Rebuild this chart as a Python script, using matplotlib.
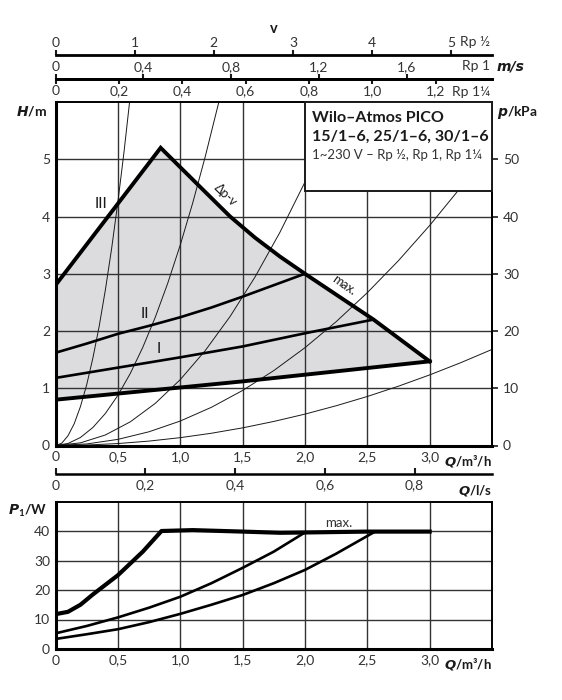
import matplotlib.pyplot as plt
from matplotlib.patches import Rectangle
from matplotlib.ticker import FuncFormatter

FONT = 'Lato'
plt.rcParams['font.family'] = [FONT, 'DejaVu Sans']
plt.rcParams['mathtext.fontset'] = 'custom'
plt.rcParams['mathtext.rm'] = FONT + ':bold'
plt.rcParams['mathtext.it'] = 'DejaVu Sans:italic:bold'
plt.rcParams['mathtext.bf'] = FONT + ':bold'

INK = '#1a1a1a'
TXT = '#333333'
GRID = '#333333'
FILL = '#dcdcdf'

# --- pump curve (H over Q) ---
Q_MAX = [0, 0.843, 1.2, 1.4, 1.6, 1.8, 2.0, 2.55, 3.0]
H_MAX = [2.8, 5.2, 4.43, 4.0, 3.63, 3.3, 3.0, 2.2, 1.47]
Q_MIN = [0, 1.5, 3.0]
H_MIN = [0.8, 1.12, 1.47]
Q_II = [0, 0.25, 0.5, 0.75, 1.0, 1.25, 1.5, 1.75, 2.0]
H_II = [1.62, 1.78, 1.95, 2.09, 2.24, 2.41, 2.6, 2.8, 3.0]
Q_I = [0, 0.5, 1.0, 1.5, 2.0, 2.55]
H_I = [1.18, 1.36, 1.54, 1.73, 1.96, 2.2]

# system curves (thin)
SYS_Q = [
    [0, 0.05, 0.1, 0.15, 0.2, 0.25, 0.3, 0.35, 0.4, 0.45, 0.5, 0.55, 0.594],
    [0, 0.1, 0.2, 0.3, 0.4, 0.5, 0.6, 0.7, 0.8, 0.9, 1.0, 1.1, 1.2, 1.3, 1.31],
    [0, 0.2, 0.4, 0.6, 0.8, 1.0, 1.2, 1.4, 1.6, 1.8, 2.0, 2.2, 2.28],
    [0, 0.25, 0.5, 0.75, 1.0, 1.25, 1.5, 1.75, 2.0, 2.25, 2.5, 2.75, 3.0, 3.25],
    [0, 0.25, 0.5, 0.75, 1.0, 1.25, 1.5, 1.75, 2.0, 2.25, 2.5, 2.75, 3.0, 3.25, 3.5],
]
SYS_H = [
    [0, 0.04, 0.17, 0.38, 0.68, 1.06, 1.53, 2.08, 2.72, 3.44, 4.25, 5.14, 6.0],
    [0, 0.035, 0.14, 0.315, 0.56, 0.875, 1.26, 1.715, 2.24, 2.835, 3.5, 4.235, 5.04, 5.915, 6.0],
    [0, 0.046, 0.184, 0.414, 0.736, 1.15, 1.656, 2.254, 2.944, 3.726, 4.6, 5.566, 5.98],
    [0, 0.027, 0.107, 0.24, 0.427, 0.667, 0.961, 1.308, 1.708, 2.162, 2.669, 3.229, 3.843, 4.51],
    [0, 0.0086, 0.034, 0.077, 0.137, 0.214, 0.308, 0.42, 0.548, 0.694, 0.856, 1.036, 1.233,
     1.447, 1.678],
]

# --- power curve (P1 over Q) ---
PQ_MAX = [0, 0.1, 0.2, 0.3, 0.5, 0.7, 0.85, 1.1, 1.5, 1.8, 2.0, 2.5, 3.0]
P_MAX = [11.8, 12.6, 15, 18.5, 25, 33, 40, 40.3, 39.8, 39.4, 39.5, 39.8, 39.8]
PQ_II = [0, 0.25, 0.5, 0.75, 1.0, 1.25, 1.5, 1.75, 2.0]
P_II = [5.3, 7.8, 10.7, 14.0, 17.7, 22.3, 27.5, 33.0, 39.5]
PQ_I = [0, 0.25, 0.5, 0.75, 1.0, 1.25, 1.5, 1.75, 2.0, 2.25, 2.55]
P_I = [3.4, 5.0, 6.7, 9.1, 11.9, 15.0, 18.3, 22.3, 26.8, 32.3, 39.5]

Q_TICKS = [0, 0.5, 1.0, 1.5, 2.0, 2.5, 3.0]
H_TICKS = [0, 1, 2, 3, 4, 5]
P_KPA_TICKS = [0, 10, 20, 30, 40, 50]
P1_TICKS = [0, 10, 20, 30, 40]

# velocity scales (m/s per m3/h) and ticks
V_RP12 = 1.576
V_RP1 = 0.568
V_RP114 = 0.3935
RP12_TICKS = [0, 1, 2, 3, 4, 5]
RP1_TICKS = [0, 0.4, 0.8, 1.2, 1.6]
RP114_TICKS = [0, 0.2, 0.4, 0.6, 0.8, 1.0, 1.2]
LS_TICKS = [0, 0.2, 0.4, 0.6, 0.8]


def comma(v, pos=None):
    if v == 0:
        return '0'
    return ('%.1f' % v).replace('.', ',')


def plain(v, pos=None):
    return '%g' % v


W, H = 562, 700
fig = plt.figure(figsize=(5.62, 7.0), dpi=100)

# main chart
ax = fig.add_axes([55.5 / W, (H - 445.5) / H, 436.5 / W, 343.5 / H])
ax.set_xlim(0, 3.5)
ax.set_ylim(0, 6)
ax.set_xticks(Q_TICKS)
ax.set_yticks(H_TICKS)
ax.xaxis.set_major_formatter(FuncFormatter(comma))
ax.grid(True, color=GRID, lw=1.0)
ax.tick_params(length=0, labelsize=10, colors=TXT, pad=4)
for s in ['left', 'bottom']:
    ax.spines[s].set_linewidth(2.2)
for s in ['top', 'right']:
    ax.spines[s].set_linewidth(1.4)

ax.fill(Q_MAX + Q_MIN[::-1], H_MAX + H_MIN[::-1], color=FILL, lw=0, zorder=1)
for qs, hs in zip(SYS_Q, SYS_H):
    ax.plot(qs, hs, color=INK, lw=0.7, zorder=2)
ax.plot(Q_MAX, H_MAX, color='black', lw=2.8, zorder=2.5, solid_joinstyle='miter')
ax.plot(Q_MIN, H_MIN, color='black', lw=2.8, zorder=2.5)
ax.plot(Q_II, H_II, color='black', lw=1.9, zorder=2.5)
ax.plot(Q_I, H_I, color='black', lw=1.9, zorder=2.5)

ax.text(0.365, 4.21, 'III', fontsize=11, color=INK, ha='center', va='center')
ax.text(0.718, 2.30, 'II', fontsize=11, color=INK, ha='center', va='center')
ax.text(0.83, 1.69, 'I', fontsize=11, color=INK, ha='center', va='center')
ax.text(1.36, 4.38, 'Δp-v', fontsize=9, color=INK, ha='center', va='center', rotation=-44)
ax.text(2.31, 2.80, 'max.', fontsize=9, color=INK, ha='center', va='center', rotation=-35)

ax.add_patch(Rectangle((2.0, 4.45), 1.5, 1.55, facecolor='white', edgecolor=INK,
                       lw=1.4, zorder=3, clip_on=False))
ax.text(2.057, 5.72, 'Wilo–Atmos PICO', fontsize=11.5, fontweight='bold', color=INK,
        va='center', zorder=4)
ax.text(2.057, 5.39, '15/1–6, 25/1–6, 30/1–6', fontsize=11.5, fontweight='bold', color=INK,
        va='center', zorder=4)
ax.text(2.057, 5.07, '1~230 V – Rp ½, Rp 1, Rp 1¼', fontsize=9.5, color=TXT,
        va='center', zorder=4)

ax.text(-0.02, 0.995, '$H$/m', transform=ax.transAxes, ha='right', va='top',
        fontsize=10, fontweight='bold', color=INK)
ax.text(1.012, 0.995, '$p$/kPa', transform=ax.transAxes, ha='left', va='top',
        fontsize=10, fontweight='bold', color=INK)
ax.text(1.0, -0.022, '$Q$/m³/h', transform=ax.transAxes, ha='right', va='top',
        fontsize=9.5, fontweight='bold', color=INK)

# right pressure axis
sec_p = ax.secondary_yaxis('right', functions=(lambda h: h * 10, lambda p: p / 10))
sec_p.set_yticks(P_KPA_TICKS)
sec_p.tick_params(length=4, width=1.2, labelsize=10, labelcolor=TXT, color=INK, pad=4)
sec_p.spines['right'].set_linewidth(1.4)

# velocity axes on top
loc_rp12 = (445.5 - 55) / 343.5
loc_rp1 = (445.5 - 79) / 343.5
sec_a = ax.secondary_xaxis(loc_rp12, functions=(lambda q: q * V_RP12, lambda v: v / V_RP12))
sec_a.set_xticks(RP12_TICKS)
sec_a.xaxis.set_major_formatter(FuncFormatter(plain))
sec_b = ax.secondary_xaxis(loc_rp1, functions=(lambda q: q * V_RP1, lambda v: v / V_RP1))
sec_b.set_xticks(RP1_TICKS)
sec_b.xaxis.set_major_formatter(FuncFormatter(comma))
sec_c = ax.secondary_xaxis(loc_rp1, functions=(lambda q: q * V_RP114, lambda v: v / V_RP114))
sec_c.set_alignment('bottom')
sec_c.set_xticks(RP114_TICKS)
sec_c.xaxis.set_major_formatter(FuncFormatter(comma))
for sa in (sec_a, sec_b, sec_c):
    sa.tick_params(length=3.5, width=1.5, labelsize=10, labelcolor=TXT, color=INK, pad=1)
    for sp in sa.spines.values():
        sp.set_linewidth(2.0)

# l/s axis below
loc_ls = (445.5 - 474) / 343.5
sec_ls = ax.secondary_xaxis(loc_ls, functions=(lambda q: q / 3.6, lambda l: l * 3.6))
sec_ls.set_xticks(LS_TICKS)
sec_ls.xaxis.set_major_formatter(FuncFormatter(comma))
sec_ls.tick_params(direction='in', length=4, width=1.5, labelsize=10, labelcolor=TXT,
                   color=INK, pad=4)
for sp in sec_ls.spines.values():
    sp.set_linewidth(1.8)
ax.text(1.0, loc_ls - 0.025, '$Q$/l/s', transform=ax.transAxes, ha='right', va='top',
        fontsize=9.5, fontweight='bold', color=INK)

fig.text(274 / W, 1 - 29 / H, 'v', ha='center', va='center', fontsize=10.5,
         fontweight='bold', color=INK)
fig.text(490 / W, 1 - 42 / H, 'Rp ½', ha='right', va='center', fontsize=10, color=TXT)
fig.text(490 / W, 1 - 66 / H, 'Rp 1', ha='right', va='center', fontsize=10, color=TXT)
fig.text(490 / W, 1 - 92 / H, 'Rp 1¼', ha='right', va='center', fontsize=10, color=TXT)
fig.text(497 / W, 1 - 66 / H, 'm/s', ha='left', va='center', fontsize=10,
         fontweight='bold', fontstyle='italic', family='DejaVu Sans', color=INK)

# power chart
ax2 = fig.add_axes([55.5 / W, (H - 649) / H, 436.5 / W, 147.5 / H])
ax2.set_xlim(0, 3.5)
ax2.set_ylim(0, 50)
ax2.set_xticks(Q_TICKS)
ax2.set_yticks(P1_TICKS)
ax2.xaxis.set_major_formatter(FuncFormatter(comma))
ax2.grid(True, color=GRID, lw=1.0)
ax2.tick_params(length=0, labelsize=10, colors=TXT, pad=4)
for s in ['left', 'bottom']:
    ax2.spines[s].set_linewidth(2.2)
for s in ['top', 'right']:
    ax2.spines[s].set_linewidth(1.4)

ax2.plot(PQ_MAX, P_MAX, color='black', lw=3.0, zorder=2.5)
ax2.plot(PQ_II, P_II, color='black', lw=1.9, zorder=2.5)
ax2.plot(PQ_I, P_I, color='black', lw=1.9, zorder=2.5)
ax2.text(2.27, 42.7, 'max.', fontsize=9.5, color=TXT, ha='center', va='center')

ax2.text(-0.02, 0.99, '$P_\\mathit{1}$/W', transform=ax2.transAxes, ha='right', va='top',
         fontsize=10, fontweight='bold', color=INK)
ax2.text(1.0, -0.05, '$Q$/m³/h', transform=ax2.transAxes, ha='right', va='top',
         fontsize=9.5, fontweight='bold', color=INK)

fig.savefig('out.png', dpi=100)
